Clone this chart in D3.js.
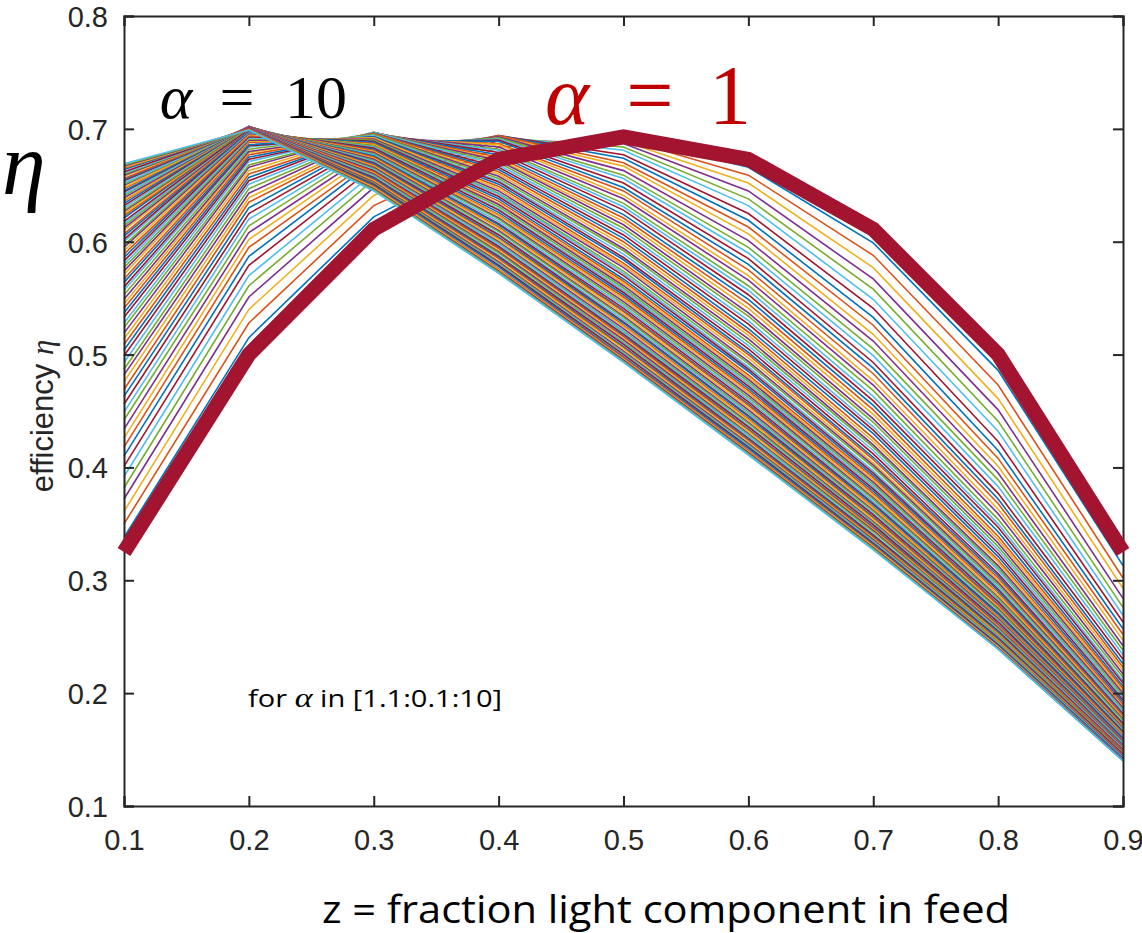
<!DOCTYPE html>
<html>
<head>
<meta charset="utf-8">
<script src="https://cdnjs.cloudflare.com/ajax/libs/d3/7.8.5/d3.min.js"></script>
<style>
  body { margin: 0; background: #fff; }
  svg { display: block; }
</style>
</head>
<body>
<div class="canvas"></div>
<script>
// feed fraction z (x axis)
var zValues = [0.1, 0.2, 0.3, 0.4, 0.5, 0.6, 0.7, 0.8, 0.9];
var xTicks = [0.1, 0.2, 0.3, 0.4, 0.5, 0.6, 0.7, 0.8, 0.9];
var yTicks = [0.1, 0.2, 0.3, 0.4, 0.5, 0.6, 0.7, 0.8];

// alpha = 1 (thick line)
var etaAlpha1 = [0.325, 0.500, 0.611, 0.673, 0.693, 0.673, 0.611, 0.500, 0.325];

// alpha in [1.1:0.1:10] -> 90 lines, one value per line at each z
var alphas = d3.range(11, 101).map(d => d / 10);

var etaZ01 = [0.338,0.350,0.361,0.372,0.382,0.392,0.401,0.410,0.418,0.426,
  0.434,0.442,0.449,0.456,0.463,0.469,0.476,0.482,0.487,0.493,
  0.499,0.504,0.509,0.514,0.519,0.524,0.528,0.533,0.537,0.541,
  0.545,0.549,0.553,0.557,0.560,0.564,0.567,0.571,0.574,0.577,
  0.580,0.583,0.586,0.589,0.592,0.595,0.597,0.600,0.602,0.605,
  0.607,0.610,0.612,0.614,0.616,0.618,0.621,0.623,0.625,0.627,
  0.628,0.630,0.632,0.634,0.636,0.637,0.639,0.641,0.642,0.644,
  0.645,0.647,0.648,0.650,0.651,0.652,0.654,0.655,0.656,0.658,
  0.659,0.660,0.661,0.662,0.664,0.665,0.666,0.667,0.668,0.669];
var etaZ02 = [0.515,0.528,0.540,0.551,0.561,0.570,0.579,0.587,0.595,0.602,
  0.608,0.614,0.620,0.625,0.630,0.635,0.639,0.643,0.647,0.651,
  0.654,0.657,0.660,0.663,0.666,0.668,0.671,0.673,0.675,0.677,
  0.679,0.680,0.682,0.684,0.685,0.686,0.688,0.689,0.690,0.691,
  0.692,0.693,0.694,0.694,0.695,0.696,0.697,0.697,0.698,0.698,
  0.699,0.699,0.699,0.700,0.700,0.700,0.701,0.701,0.701,0.701,
  0.701,0.702,0.702,0.702,0.702,0.702,0.702,0.702,0.702,0.702,
  0.702,0.702,0.702,0.702,0.701,0.701,0.701,0.701,0.701,0.701,
  0.701,0.700,0.700,0.700,0.700,0.700,0.699,0.699,0.699,0.699];
var etaZ03 = [0.622,0.632,0.641,0.648,0.655,0.661,0.666,0.671,0.674,0.678,
  0.681,0.684,0.686,0.688,0.690,0.691,0.692,0.694,0.694,0.695,
  0.696,0.696,0.696,0.697,0.697,0.697,0.697,0.696,0.696,0.696,
  0.695,0.695,0.695,0.694,0.693,0.693,0.692,0.692,0.691,0.690,
  0.689,0.689,0.688,0.687,0.686,0.685,0.685,0.684,0.683,0.682,
  0.681,0.680,0.679,0.678,0.677,0.676,0.676,0.675,0.674,0.673,
  0.672,0.671,0.670,0.669,0.668,0.667,0.666,0.665,0.664,0.663,
  0.662,0.662,0.661,0.660,0.659,0.658,0.657,0.656,0.655,0.654,
  0.653,0.652,0.651,0.651,0.650,0.649,0.648,0.647,0.646,0.645];
var etaZ04 = [0.679,0.684,0.687,0.690,0.692,0.693,0.694,0.694,0.694,0.693,
  0.693,0.692,0.691,0.690,0.689,0.687,0.686,0.684,0.682,0.681,
  0.679,0.677,0.675,0.673,0.672,0.670,0.668,0.666,0.664,0.662,
  0.660,0.658,0.656,0.654,0.653,0.651,0.649,0.647,0.645,0.643,
  0.642,0.640,0.638,0.636,0.634,0.633,0.631,0.629,0.628,0.626,
  0.624,0.623,0.621,0.620,0.618,0.616,0.615,0.613,0.612,0.610,
  0.609,0.607,0.606,0.604,0.603,0.602,0.600,0.599,0.598,0.596,
  0.595,0.594,0.592,0.591,0.590,0.588,0.587,0.586,0.585,0.583,
  0.582,0.581,0.580,0.579,0.578,0.576,0.575,0.574,0.573,0.572];
var etaZ05 = [0.693,0.691,0.689,0.687,0.684,0.681,0.677,0.674,0.670,0.667,
  0.663,0.659,0.656,0.652,0.648,0.645,0.641,0.638,0.634,0.631,
  0.628,0.624,0.621,0.618,0.615,0.612,0.609,0.606,0.603,0.600,
  0.597,0.594,0.592,0.589,0.586,0.584,0.581,0.579,0.577,0.574,
  0.572,0.570,0.567,0.565,0.563,0.561,0.559,0.557,0.555,0.553,
  0.551,0.549,0.547,0.545,0.543,0.541,0.539,0.538,0.536,0.534,
  0.533,0.531,0.529,0.528,0.526,0.525,0.523,0.521,0.520,0.518,
  0.517,0.516,0.514,0.513,0.511,0.510,0.509,0.507,0.506,0.505,
  0.503,0.502,0.501,0.500,0.498,0.497,0.496,0.495,0.494,0.493];
var etaZ06 = [0.666,0.659,0.652,0.645,0.638,0.632,0.625,0.619,0.613,0.607,
  0.601,0.595,0.590,0.585,0.580,0.575,0.570,0.566,0.561,0.557,
  0.553,0.549,0.545,0.541,0.537,0.534,0.530,0.527,0.523,0.520,
  0.517,0.514,0.511,0.508,0.505,0.502,0.500,0.497,0.494,0.492,
  0.489,0.487,0.485,0.482,0.480,0.478,0.476,0.474,0.472,0.470,
  0.468,0.466,0.464,0.462,0.460,0.458,0.456,0.455,0.453,0.451,
  0.449,0.448,0.446,0.445,0.443,0.442,0.440,0.439,0.437,0.436,
  0.434,0.433,0.432,0.430,0.429,0.428,0.426,0.425,0.424,0.422,
  0.421,0.420,0.419,0.418,0.417,0.415,0.414,0.413,0.412,0.411];
var etaZ07 = [0.599,0.588,0.577,0.567,0.558,0.549,0.541,0.533,0.526,0.518,
  0.512,0.505,0.499,0.493,0.488,0.483,0.477,0.473,0.468,0.463,
  0.459,0.455,0.451,0.447,0.443,0.440,0.436,0.433,0.430,0.426,
  0.423,0.420,0.418,0.415,0.412,0.409,0.407,0.404,0.402,0.400,
  0.397,0.395,0.393,0.391,0.389,0.387,0.385,0.383,0.381,0.379,
  0.377,0.375,0.373,0.372,0.370,0.368,0.367,0.365,0.364,0.362,
  0.361,0.359,0.358,0.356,0.355,0.354,0.352,0.351,0.350,0.349,
  0.347,0.346,0.345,0.344,0.343,0.341,0.340,0.339,0.338,0.337,
  0.336,0.335,0.334,0.333,0.332,0.331,0.330,0.329,0.328,0.327];
var etaZ08 = [0.486,0.473,0.461,0.451,0.441,0.432,0.423,0.415,0.408,0.401,
  0.395,0.389,0.383,0.377,0.372,0.368,0.363,0.359,0.354,0.350,
  0.347,0.343,0.339,0.336,0.333,0.330,0.327,0.324,0.321,0.318,
  0.316,0.313,0.311,0.309,0.306,0.304,0.302,0.300,0.298,0.296,
  0.294,0.292,0.291,0.289,0.287,0.285,0.284,0.282,0.281,0.279,
  0.278,0.276,0.275,0.274,0.272,0.271,0.270,0.268,0.267,0.266,
  0.265,0.264,0.263,0.261,0.260,0.259,0.258,0.257,0.256,0.255,
  0.254,0.253,0.252,0.251,0.251,0.250,0.249,0.248,0.247,0.246,
  0.245,0.245,0.244,0.243,0.242,0.241,0.241,0.240,0.239,0.239];
var etaZ09 = [0.313,0.302,0.293,0.284,0.276,0.269,0.263,0.257,0.252,0.247,
  0.242,0.238,0.234,0.230,0.226,0.223,0.220,0.217,0.214,0.211,
  0.209,0.206,0.204,0.202,0.200,0.198,0.196,0.194,0.192,0.190,
  0.188,0.187,0.185,0.184,0.182,0.181,0.180,0.178,0.177,0.176,
  0.174,0.173,0.172,0.171,0.170,0.169,0.168,0.167,0.166,0.165,
  0.164,0.163,0.162,0.161,0.161,0.160,0.159,0.158,0.157,0.157,
  0.156,0.155,0.154,0.154,0.153,0.152,0.152,0.151,0.151,0.150,
  0.149,0.149,0.148,0.148,0.147,0.146,0.146,0.145,0.145,0.144,
  0.144,0.143,0.143,0.142,0.142,0.141,0.141,0.141,0.140,0.140];

var lineColors = ["#0072BD", "#D95319", "#EDB120", "#7E2F8E", "#77AC30", "#4DBEEE", "#A2142F"];

var width = 1142,
    height = 933;

var svg = d3.select(".canvas").append("svg")
          .attr("width", width)
          .attr("height", height);

svg.append("rect").attr("width", width).attr("height", height).attr("fill", "#fff");

var plotLeft = 124, plotRight = 1123, plotTop = 16, plotBottom = 806;

var x = d3.scaleLinear().domain([0.1, 0.9]).range([plotLeft, plotRight]);
var y = d3.scaleLinear().domain([0.1, 0.8]).range([plotBottom, plotTop]);

var columns = [etaZ01, etaZ02, etaZ03, etaZ04, etaZ05, etaZ06, etaZ07, etaZ08, etaZ09];
var fan = alphas.map((a, i) => columns.map((col, j) => ({ z: zValues[j], eta: col[i] })));

var line = d3.line().x(d => x(d.z)).y(d => y(d.eta));

svg.append("g").selectAll("path")
    .data(fan)
  .enter().append("path")
    .attr("d", line)
    .attr("fill", "none")
    .attr("stroke", (d, i) => lineColors[i % 7])
    .attr("stroke-width", 1.6)
    .attr("stroke-linejoin", "miter");

// axes box with inward ticks (matlab style)
var axisColor = "#262626";
var tickLen = 10;

var gx = svg.append("g").attr("transform", "translate(0," + plotBottom + ")")
    .call(d3.axisBottom(x).tickValues(xTicks).tickSize(-tickLen).tickPadding(0).tickFormat(d3.format(".1f")));
var gxTop = svg.append("g").attr("transform", "translate(0," + plotTop + ")")
    .call(d3.axisTop(x).tickValues(xTicks).tickSize(-tickLen).tickFormat(""));
var gy = svg.append("g").attr("transform", "translate(" + plotLeft + ",0)")
    .call(d3.axisLeft(y).tickValues(yTicks).tickSize(-tickLen).tickPadding(0).tickFormat(d3.format(".1f")));
var gyRight = svg.append("g").attr("transform", "translate(" + plotRight + ",0)")
    .call(d3.axisRight(y).tickValues(yTicks).tickSize(-tickLen).tickFormat(""));

[gx, gxTop, gy, gyRight].forEach(g => {
  g.select(".domain").attr("stroke", axisColor).attr("stroke-width", 2);
  g.selectAll(".tick line").attr("stroke", axisColor).attr("stroke-width", 2);
  g.selectAll("text").attr("fill", "#262626")
    .style("font-family", "'Liberation Sans', Arial, sans-serif")
    .style("font-size", "29px");
});

gx.selectAll(".tick text").attr("y", 23).attr("dy", "0.71em");
gy.selectAll(".tick text").attr("x", -16).attr("dy", "0.36em");

// alpha = 1 thick line on top
svg.append("path")
    .datum(zValues.map((z, i) => ({ z: z, eta: etaAlpha1[i] })))
    .attr("d", line)
    .attr("fill", "none")
    .attr("stroke", "#A2142F")
    .attr("stroke-width", 15)
    .attr("stroke-linejoin", "miter")
    .attr("stroke-linecap", "butt");

// y label
svg.append("text")
    .attr("transform", "translate(53,416) rotate(-90)")
    .attr("text-anchor", "middle")
    .style("font-family", "'Liberation Sans', Arial, sans-serif")
    .style("font-size", "31px")
    .attr("fill", "#262626")
    .text("efficiency ")
  .append("tspan")
    .style("font-family", "'Liberation Serif', serif")
    .style("font-style", "italic")
    .text("η");

// big eta
svg.append("text")
    .attr("x", 2).attr("y", 194)
    .style("font-family", "'Liberation Serif', 'DejaVu Serif', serif")
    .style("font-style", "italic")
    .style("font-size", "88px")
    .attr("fill", "#000")
    .text("η");

// annotation helpers
function mathLabel(parts, baseline, size, color) {
  parts.forEach(p => {
    svg.append("text")
        .attr("x", p.cx).attr("y", baseline)
        .attr("text-anchor", "middle")
        .style("font-family", "'Liberation Serif', 'DejaVu Serif', serif")
        .style("font-style", p.italic ? "italic" : "normal")
        .style("font-size", size + "px")
        .attr("fill", color)
        .text(p.t);
  });
}

mathLabel([{ t: "α", cx: 176, italic: true }, { t: "=", cx: 237 }, { t: "10", cx: 316 }], 118, 62, "#000");
mathLabel([{ t: "α", cx: 567, italic: true }, { t: "=", cx: 650 }, { t: "1", cx: 730 }], 124, 84, "#C00000");

// range note
var note = svg.append("text")
    .attr("x", 248).attr("y", 707)
    .attr("textLength", 254)
    .attr("lengthAdjust", "spacingAndGlyphs")
    .style("font-family", "'Open Sans', 'Noto Sans', sans-serif")
    .style("font-size", "23px")
    .attr("fill", "#000");
note.append("tspan").text("for ");
note.append("tspan")
    .style("font-family", "'Liberation Serif', serif")
    .style("font-style", "italic")
    .style("font-size", "27px")
    .text("α");
note.append("tspan").text(" in [1.1:0.1:10]");

// x label
svg.append("text")
    .attr("x", 322).attr("y", 923)
    .attr("textLength", 688)
    .attr("lengthAdjust", "spacingAndGlyphs")
    .style("font-family", "'Open Sans', 'Noto Sans', sans-serif")
    .style("font-size", "39px")
    .attr("fill", "#000")
    .text("z = fraction light component in feed");
</script>
</body>
</html>
